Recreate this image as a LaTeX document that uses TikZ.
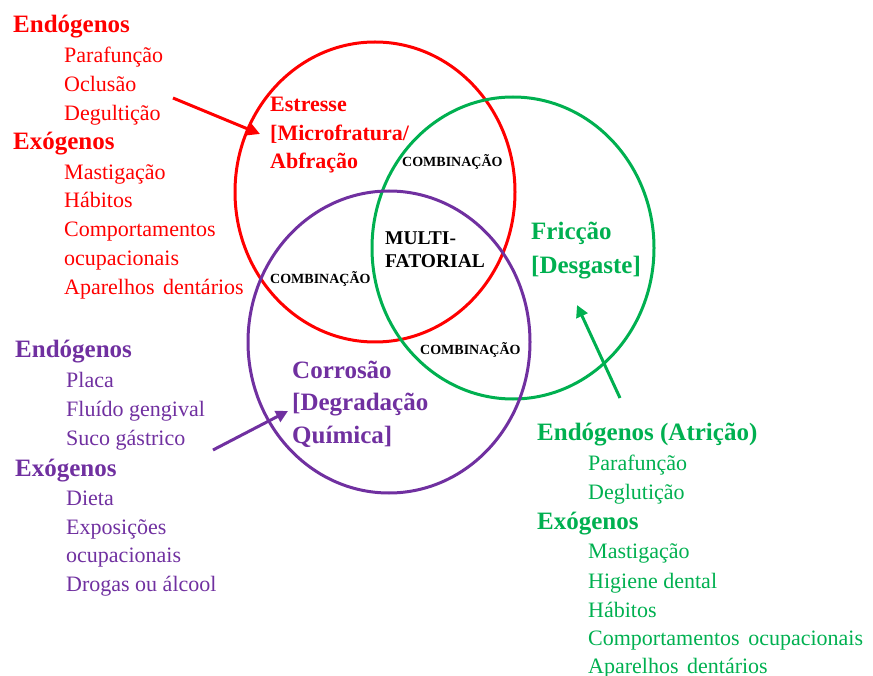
\documentclass[tikz,border=0pt]{standalone}
\usepackage{fontspec}
\setmainfont{Liberation Serif}
\usetikzlibrary{arrows.meta}
\definecolor{vred}{HTML}{FF0000}
\definecolor{vgreen}{HTML}{00B050}
\definecolor{vpurple}{HTML}{7030A0}
\begin{document}
\begin{tikzpicture}[x=1pt,y=-1pt,
  txt/.style={anchor=base west, inner sep=0pt, font=\fontsize{22}{26}\selectfont},
  head/.style={anchor=base west, inner sep=0pt, font=\fontsize{25}{30}\selectfont\bfseries},
  biglab/.style={anchor=base west, inner sep=0pt, font=\fontsize{25}{30}\selectfont\bfseries},
  midlab/.style={anchor=base west, inner sep=0pt, font=\fontsize{22}{26}\selectfont\bfseries},
  multi/.style={anchor=base west, inner sep=0pt, font=\fontsize{19.5}{23}\selectfont\bfseries},
  comb/.style={anchor=base west, inner sep=0pt, font=\fontsize{14}{16}\selectfont\bfseries},
  ring/.style={line width=3pt},
  arr/.style={line width=3pt, -{Triangle[length=12pt,width=12pt]}}]
\useasboundingbox (0,0) rectangle (873,676);

% circles
\draw[ring, vred] (375,192) ellipse [x radius=140, y radius=150];
\draw[ring, vgreen] (513,248) ellipse [x radius=141, y radius=151];
\draw[ring, vpurple] (389,342) ellipse [x radius=141, y radius=151];

% red list
\node[head, vred] (rh1) at (13,33) {Endógenos};
\foreach \t/\y [count=\i] in {Parafunção/63, Oclusão/92, Degultição/121}
  {\node[txt, vred] (ra\i) at (64,\y) {\t};}
\node[head, vred] (rh2) at (13,150) {Exógenos};
\foreach \t/\y [count=\i] in {Mastigação/180, Hábitos/208, Comportamentos/237, ocupacionais/266, Aparelhos\hspace{3pt} dentários/295}
  {\node[txt, vred] (rb\i) at (64,\y) {\t};}

% purple list
\node[head, vpurple] (ph1) at (15,357) {Endógenos};
\foreach \t/\y [count=\i] in {Placa/387, Fluído gengival/416, Suco gástrico/445}
  {\node[txt, vpurple] (pa\i) at (66,\y) {\t};}
\node[head, vpurple] (ph2) at (15,476) {Exógenos};
\foreach \t/\y [count=\i] in {Dieta/505, Exposições/534, ocupacionais/562, Drogas ou álcool/591}
  {\node[txt, vpurple] (pb\i) at (66,\y) {\t};}

% green list
\node[head, vgreen] (gh1) at (537,440) {Endógenos (Atrição)};
\foreach \t/\y [count=\i] in {Parafunção/470, Deglutição/499}
  {\node[txt, vgreen] (ga\i) at (588,\y) {\t};}
\node[head, vgreen] (gh2) at (537,529) {Exógenos};
\foreach \t/\y [count=\i] in {Mastigação/558, Higiene dental/588, Hábitos/617, Comportamentos\hspace{3pt} ocupacionais/645, Aparelhos\hspace{3pt} dentários/673}
  {\node[txt, vgreen] (gb\i) at (588,\y) {\t};}

% circle labels
\node[midlab, vred] (es1) at (270,112) {Estresse};
\node[midlab, vred] (es2) at (270,141) {[Microfratura/};
\node[midlab, vred] (es3) at (270,169) {Abfração};

\node[biglab, vgreen] (fr1) at (531,240) {Fricção};
\node[biglab, vgreen] (fr2) at (531,274) {[Desgaste]};

\node[biglab, vpurple] (co1) at (292,378) {Corrosão};
\node[biglab, vpurple] (co2) at (292,410) {[Degradação};
\node[biglab, vpurple] (co3) at (292,443) {Química]};

\node[multi] (mu1) at (385,245) {MULTI-};
\node[multi] (mu2) at (385,268) {FATORIAL};

\node[comb] (cb1) at (402,167) {COMBINAÇÃO};
\node[comb] (cb2) at (270,284) {COMBINAÇÃO};
\node[comb] (cb3) at (420,355) {COMBINAÇÃO};

% arrows
\coordinate (ras) at (173,98);
\coordinate (rae) at (260,134);
\coordinate (pas) at (213,450);
\coordinate (pae) at (288,411);
\coordinate (gas) at (620,398);
\coordinate (gae) at (577,305);
\draw[arr, vred] (ras) -- (rae);
\draw[arr, vpurple] (pas) -- (pae);
\draw[arr, vgreen] (gas) -- (gae);
\end{tikzpicture}
\end{document}
